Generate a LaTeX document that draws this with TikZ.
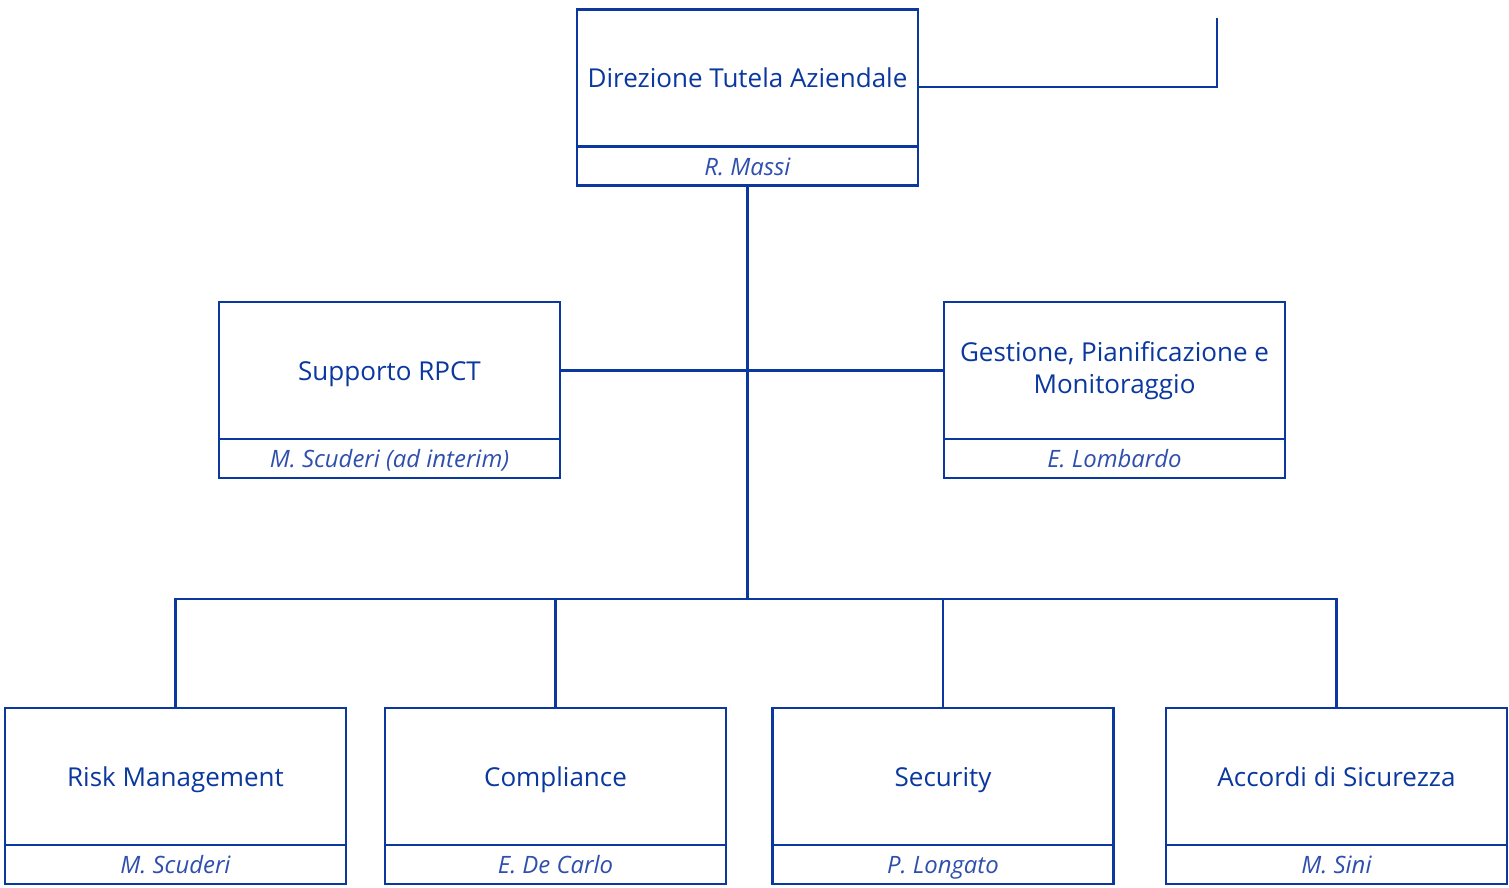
\documentclass[tikz,border=0pt]{standalone}
\usepackage{fontspec}
\setmainfont{Open Sans}
\usetikzlibrary{positioning}
\definecolor{Navy}{HTML}{0A389E}
\definecolor{NameBlue}{HTML}{2F4FAE}
\tikzset{
  unit/.style={
    draw=Navy, line width=2pt, fill=white, text=Navy,
    minimum width=8.525cm, minimum height=3.425cm,
    text height=14pt, text depth=0pt,
    align=center, font=\fontsize{18.5}{23}\selectfont, outer sep=0pt
  },
  person/.style={
    draw=Navy, line width=2pt, fill=white, text=NameBlue,
    minimum width=8.525cm, minimum height=0.975cm,
    text height=13pt, text depth=0pt,
    font=\fontsize{17}{20}\selectfont\itshape, outer sep=0pt, inner sep=0pt
  },
  link/.style={draw=Navy, line width=1.8pt}
}
\begin{document}
\begin{tikzpicture}[x=0.025cm,y=-0.025cm,node distance=0pt]
    \useasboundingbox (0,0) rectangle (1509,887);
    % top
    \node[unit] (dir) at (747.5,78) {Direzione Tutela Aziendale};
    \node[person,below=of dir] (dirp) {R. Massi};
    % staff
    \node[unit] (rpct) at (389.5,370.5) {Supporto RPCT};
    \node[person,below=of rpct] (rpctp) {M. Scuderi (ad interim)};
    \node[unit,text height=,text depth=] (gest) at (1114.5,370.5) {Gestione, Pianificazione e\\Monitoraggio};
    \node[person,below=of gest] (gestp) {E. Lombardo};
    % line units
    \node[unit] (risk) at (175.5,776.5) {Risk Management};
    \node[person,below=of risk] (riskp) {M. Scuderi};
    \node[unit] (comp) at (555.5,776.5) {Compliance};
    \node[person,below=of comp] (compp) {E. De Carlo};
    \node[unit] (sec) at (943,776.5) {Security};
    \node[person,below=of sec] (secp) {P. Longato};
    \node[unit] (acc) at (1336.5,776.5) {Accordi di Sicurezza};
    \node[person,below=of acc] (accp) {M. Sini};
    \coordinate (hub) at (747.5,599);
    \coordinate (stub) at (1217,18);
    \draw[link] (dirp.south) -- (hub);
    \draw[link] (rpct.east) -- (gest.west);
    \draw[link] (risk.north) |- (hub) -| (acc.north);
    \draw[link] (comp.north) -- (comp.north |- hub);
    \draw[link] (sec.north) -- (sec.north |- hub);
    \draw[link] (dir.east) ++(0,9) -| (stub);
  \end{tikzpicture}
\end{document}
